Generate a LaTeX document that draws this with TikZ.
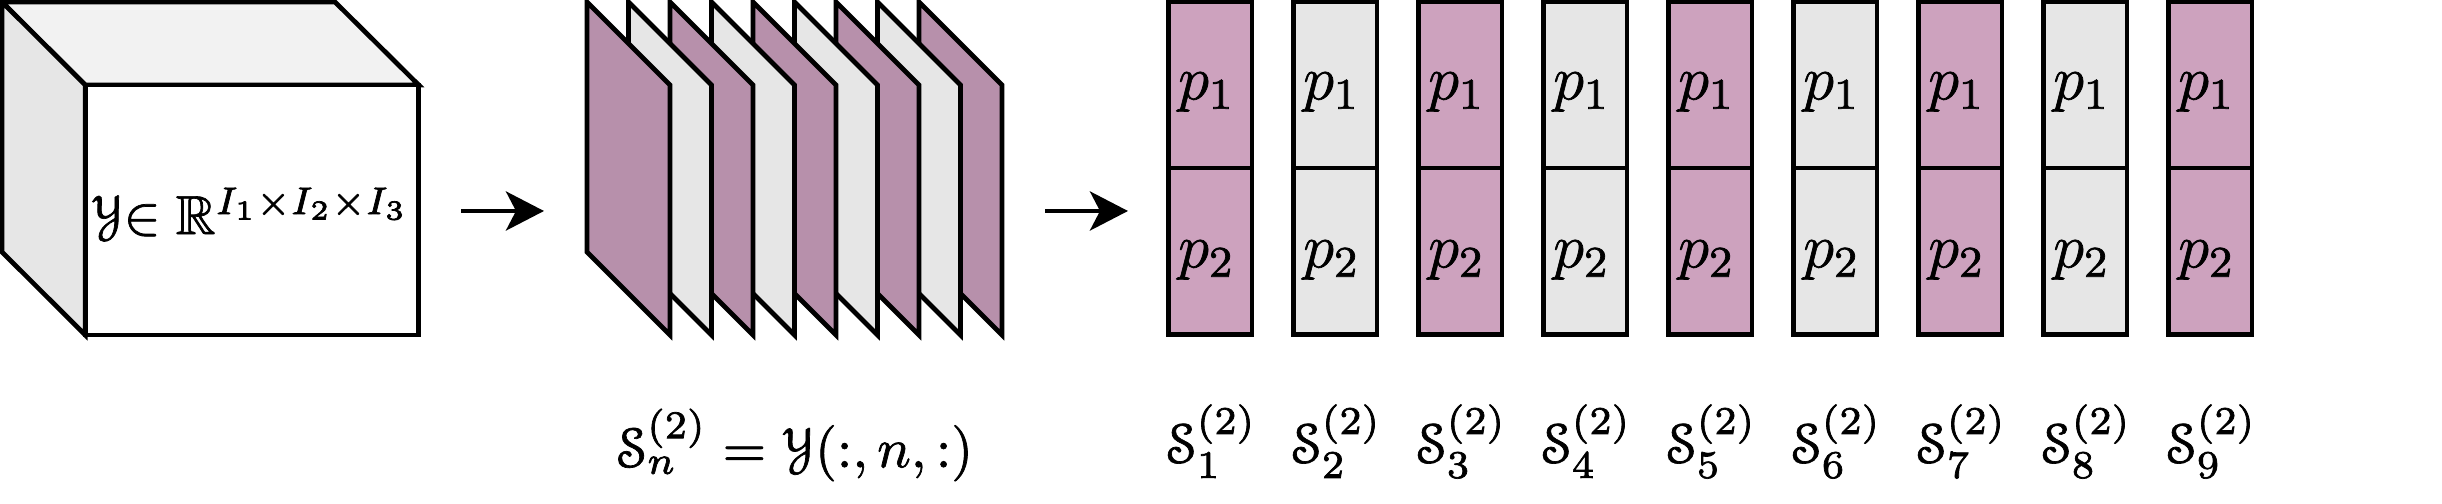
\documentclass[tikz,border=0pt]{standalone}
\usepackage{fix-cm}
\usepackage{amsmath,amssymb}
\usepackage[mathcal]{euscript}
\usetikzlibrary{arrows.meta}
\definecolor{pinkcell}{HTML}{CDA2BE}
\definecolor{pinkplane}{HTML}{B790AB}
\definecolor{greycell}{HTML}{E6E6E6}
\definecolor{topface}{HTML}{F2F2F2}
\newcommand{\heavier}{\special{pdf:code 2 Tr 0.14 w}}
\tikzset{
  outline/.style={draw=black,line width=.94pt,line join=miter},
  cellbox/.style={outline,minimum width=16.7pt,minimum height=33.3pt,inner sep=0pt,outer sep=0pt,anchor=north west},
  flow/.style={line width=.94pt,-{Stealth[length=7.6pt,width=7.8pt,inset=2pt]}},
  lab/.style={inner sep=0pt,font=\fontsize{11}{13}\selectfont\heavier},
  slab/.style={inner sep=0pt,font=\fontsize{11.2}{13}\selectfont\heavier},
  plab/.style={inner sep=0pt,font=\fontsize{12.5}{14}\selectfont\heavier},
}
\begin{document}
\begin{tikzpicture}[x=.2pt,y=-.2pt]
\useasboundingbox (0,0) rectangle (2442,504);
% cube
\path[outline,fill=topface] (2,2) -- (335,2) -- (418.7,85) -- (85.3,85) -- cycle;
\path[outline,fill=greycell] (2,2) -- (85.3,85) -- (85.3,335) -- (2,252) -- cycle;
\path[outline,fill=white] (85.3,85) rectangle (418.7,335);
\node[lab] (cubelabel) at (250,212) {$\mathcal{Y}{\in}\;\mathbb{R}^{I_1\times I_2\times I_3}$};
% slices
\foreach \i/\c in {8/pinkplane,7/greycell,6/pinkplane,5/greycell,4/pinkplane,3/greycell,2/pinkplane,1/greycell,0/pinkplane}{
  \path[outline,fill=\c] ({587+41.5*\i},2) -- ({670+41.5*\i},85) -- ({670+41.5*\i},335) -- ({587+41.5*\i},252) -- cycle;
}
\node[slab] (slicelabel) at (795,445) {$\mathcal{S}_{n}^{(2)}=\mathcal{Y}(:,n,:)$};
% arrows
\coordinate (a1s) at (461,211); \coordinate (a1e) at (544,211);
\coordinate (a2s) at (1045,211); \coordinate (a2e) at (1128,211);
\draw[flow] (a1s) -- (a1e);
\draw[flow] (a2s) -- (a2e);
% columns
\foreach \i/\c in {1/pinkcell,2/greycell,3/pinkcell,4/greycell,5/pinkcell,6/greycell,7/pinkcell,8/greycell,9/pinkcell}{
  \pgfmathsetmacro{\xx}{1168.5+125*(\i-1)}
  \node[cellbox,fill=\c] (top\i) at (\xx,2) {};
  \node[cellbox,fill=\c] (bot\i) at (\xx,168) {};
  \node[plab] (pa\i) at ({\xx+38},92) {$p_1$};
  \node[plab] (pb\i) at ({\xx+38},260) {$p_2$};
  \node[slab,anchor=base west] (s\i) at ({\xx-3},463) {$\mathcal{S}_{\i}^{(2)}$};
}
\end{tikzpicture}
\end{document}
